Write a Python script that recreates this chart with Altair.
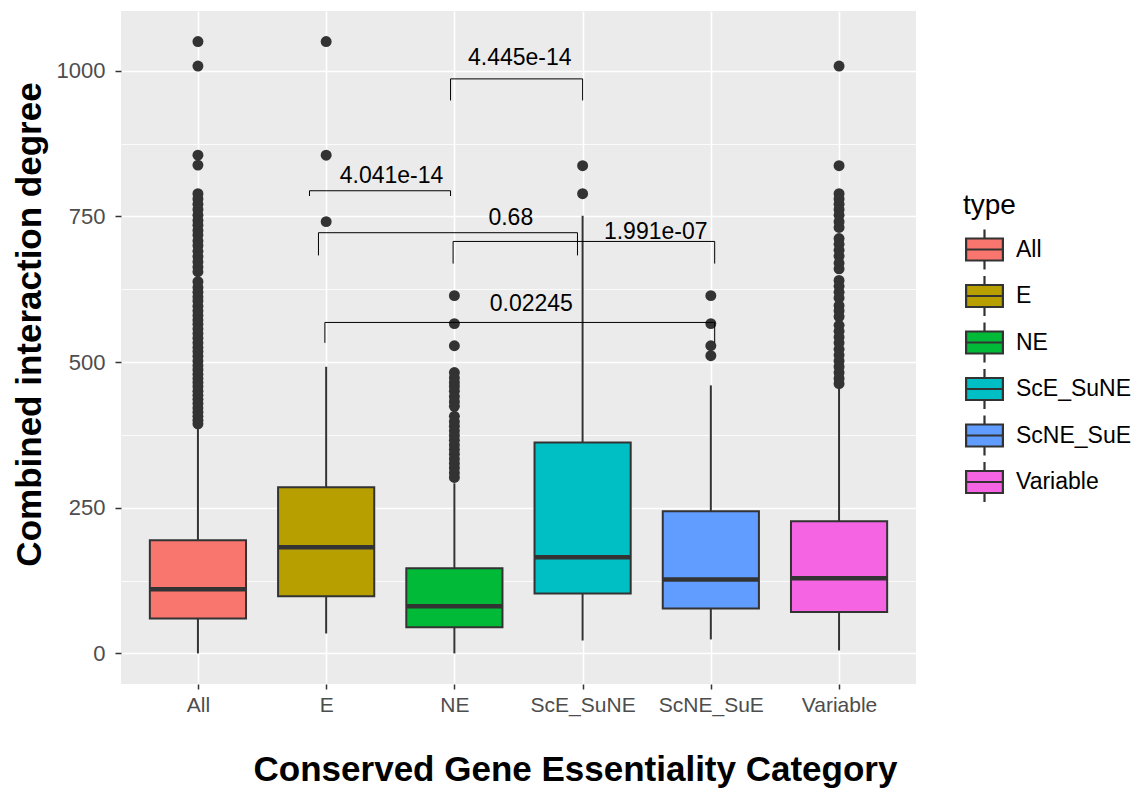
import altair as alt
import pandas as pd

# ---------------- data ----------------
categories = ["All", "E", "NE", "ScE_SuNE", "ScNE_SuE", "Variable"]
colors = ["#F8766D", "#B79F00", "#00BA38", "#00BFC4", "#619CFF", "#F564E3"]

whisker_low = [0, 34, 0, 22, 24, 5]
q1 = [60, 98, 45, 103, 77, 71]
median = [110, 182, 81, 165, 127, 129]
q3 = [194, 285, 146, 362, 244, 227]
whisker_high = [386, 492, 292, 751, 460, 456]

outliers_all = [1050, 1008, 855, 838, 789, 780, 771, 762, 752, 743, 735, 726, 718,
                708, 700, 690, 681, 672, 663, 655, 638, 628, 620, 612, 605, 596,
                588, 580, 572, 565, 557, 549, 541, 533, 525, 518, 510, 502, 494,
                487, 479, 472, 465, 458, 450, 443, 436, 429, 421, 414, 407, 400, 394]
outliers_e = [1050, 855, 741]
outliers_ne = [614, 566, 528, 482, 473, 465, 458, 450, 441, 432, 424, 407, 398,
               390, 382, 374, 366, 358, 350, 342, 334, 326, 318, 310, 302]
outliers_sce = [837, 789]
outliers_scne = [614, 566, 528, 511]
outliers_var = [1008, 837, 789, 780, 771, 762, 752, 741, 731, 712, 702, 692, 682,
                670, 660, 640, 630, 620, 610, 597, 588, 578, 563, 553, 543, 533,
                522, 512, 502, 492, 482, 472, 463]
outliers = [outliers_all, outliers_e, outliers_ne, outliers_sce, outliers_scne, outliers_var]

# significance brackets (x in category-position units, y in data units)
br_labels = ["4.445e-14", "4.041e-14", "0.68", "1.991e-07", "0.02245"]
br_x1 = [2.97, 1.87, 1.94, 2.99, 1.99]
br_x2 = [4.00, 2.97, 3.96, 5.03, 5.03]
br_y = [986, 794, 722, 707, 568]
br_tip = [949, 785, 683, 669, 533]
br_lab_x = [3.51, 2.51, 3.44, 4.57, 3.60]
br_lab_y = [1009, 808, 736, 712, 588]

y_ticks = [0, 125, 250, 375, 500, 625, 750, 875, 1000]

# ---------------- tables ----------------
BOX_HALF = 0.375
pos = list(range(1, len(categories) + 1))
box_df = pd.DataFrame({
    "type": categories, "pos": pos,
    "lo": whisker_low, "q1": q1, "med": median, "q3": q3, "hi": whisker_high,
})
box_df["left"] = box_df["pos"] - BOX_HALF
box_df["right"] = box_df["pos"] + BOX_HALF

out_rows = []
for c, p, vals in zip(categories, pos, outliers):
    for v in vals:
        out_rows.append({"type": c, "pos": p, "value": v})
out_df = pd.DataFrame(out_rows)

seg_rows = []
for x1, x2, y, t in zip(br_x1, br_x2, br_y, br_tip):
    seg_rows.append({"xa": x1, "xb": x2, "ya": y, "yb": y})
    seg_rows.append({"xa": x1, "xb": x1, "ya": y, "yb": t})
    seg_rows.append({"xa": x2, "xb": x2, "ya": y, "yb": t})
seg_df = pd.DataFrame(seg_rows)
lab_df = pd.DataFrame({"label": br_labels, "x": br_lab_x, "y": br_lab_y})

# ---------------- scales / axes ----------------
FONT = "Liberation Sans"
xscale = alt.Scale(domain=[0.4, 6.6], nice=False, zero=False)
yscale = alt.Scale(domain=[-52.5, 1102.5], nice=False, zero=False)

label_js = "[" + ",".join("'%s'" % c for c in categories) + "]"
x_axis = alt.Axis(
    values=pos,
    labelExpr=label_js + "[datum.value - 1]",
    title="Conserved Gene Essentiality Category",
    titleFont=FONT, titleFontSize=35, titleFontWeight="bold", titleColor="black",
    titleX=454, titleY=96, titleBaseline="alphabetic", titleAlign="center", titleAngle=0,
    labelFont=FONT, labelFontSize=21, labelColor="#4D4D4D", labelPadding=5,
    tickColor="#333333", tickSize=5, tickWidth=1.5,
    grid=True, gridColor="white", gridWidth=1.6,
    domain=False,
)
major = "datum.value % 250 === 0"
y_axis = alt.Axis(
    values=y_ticks,
    format="d",
    labelExpr=major + " ? datum.label : ''",
    title="Combined interaction degree",
    titleFont=FONT, titleFontSize=35, titleFontWeight="bold", titleColor="black",
    titleX=-81, titleY=313, titleAngle=270, titleBaseline="alphabetic", titleAlign="center",
    labelFont=FONT, labelFontSize=22, labelColor="#4D4D4D", labelPadding=10,
    tickColor="#333333", tickSize=6, tickWidth=1.5,
    tickOpacity={"condition": {"test": major, "value": 1}, "value": 0},
    grid=True, gridColor="white",
    gridWidth={"condition": {"test": major, "value": 1.6}, "value": 0.8},
    domain=False,
)

legend_path = ("M-0.92,-0.55H0.92V0.55H-0.92Z M-0.92,0H0.92 "
               "M0,-0.55V-1 M0,0.55V1")

base_box = alt.Chart(box_df)

whiskers = base_box.mark_rule(color="#333333", strokeWidth=2).encode(
    x=alt.X("pos:Q", scale=xscale, axis=x_axis),
    y=alt.Y("lo:Q", scale=yscale, axis=y_axis),
    y2="hi:Q",
)

boxes = base_box.mark_rect(stroke="#333333", strokeWidth=2).encode(
    x=alt.X("left:Q", scale=xscale),
    x2="right:Q",
    y=alt.Y("q1:Q", scale=yscale),
    y2="q3:Q",
    fill=alt.Fill(
        "type:N",
        scale=alt.Scale(domain=categories, range=colors),
        legend=alt.Legend(
            title="type", orient="none", legendX=842, legendY=181,
            titleFont=FONT, titleFontSize=28, titleFontWeight="normal", titleColor="black",
            titlePadding=8,
            labelFont=FONT, labelFontSize=23, labelColor="black", labelOffset=10,
            symbolType=legend_path, symbolSize=1600,
            symbolStrokeColor="#333333", symbolStrokeWidth=2.2,
            rowPadding=-2.5,
        ),
    ),
)

medians = base_box.mark_rule(color="#333333", strokeWidth=4.5).encode(
    x=alt.X("left:Q", scale=xscale),
    x2="right:Q",
    y=alt.Y("med:Q", scale=yscale),
)

points = alt.Chart(out_df).mark_circle(color="#333333", size=120, opacity=1).encode(
    x=alt.X("pos:Q", scale=xscale),
    y=alt.Y("value:Q", scale=yscale),
)

brackets = alt.Chart(seg_df).mark_rule(color="black", strokeWidth=1).encode(
    x=alt.X("xa:Q", scale=xscale),
    x2="xb:Q",
    y=alt.Y("ya:Q", scale=yscale),
    y2="yb:Q",
)

labels = alt.Chart(lab_df).mark_text(
    font=FONT, fontSize=23, color="black", align="center", baseline="alphabetic"
).encode(
    x=alt.X("x:Q", scale=xscale),
    y=alt.Y("y:Q", scale=yscale),
    text="label:N",
)

chart = alt.layer(whiskers, boxes, medians, points, brackets, labels).properties(
    width=795, height=673,
    autosize=alt.AutoSizeParams(type="none"),
    padding={"left": 121, "top": 11, "right": 229, "bottom": 111},
    background="white",
).configure_view(fill="#EBEBEB", strokeWidth=0)

chart.save("out.html", embed_options={"renderer": "svg", "actions": False})
